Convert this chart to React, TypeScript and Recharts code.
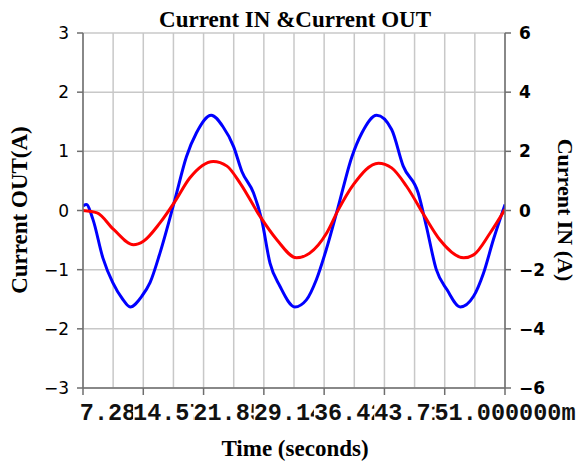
import React from 'react';
import {
  LineChart,
  Line,
  XAxis,
  YAxis,
  CartesianGrid,
} from 'recharts';

// time in ms
const inTimes = [0, 0.4, 1.2, 2.4, 3.6, 4.8, 5.7, 7.1, 8.1, 9.3, 11.1, 12.5, 13.7, 15.5, 16.9, 18.2, 19.2, 20.6, 21.6, 22.6, 23.8, 25.6, 27.0, 28.2, 29.4, 30.8, 32.5, 33.7, 35.5, 37.3, 38.7, 40.5, 41.5, 42.7, 44.0, 45.6, 47.2, 48.4, 49.6, 51];
const inValues = [0.15, 0.2, -0.3, -1.6, -2.44, -3.0, -3.26, -2.9, -2.44, -1.44, 0.36, 1.82, 2.62, 3.22, 2.84, 2.16, 1.32, 0.6, -0.32, -1.78, -2.56, -3.26, -3.02, -2.34, -1.32, 0.08, 1.82, 2.62, 3.22, 2.74, 1.5, 0.6, -0.54, -2.0, -2.68, -3.26, -2.9, -2.12, -0.98, 0.2];

const outTimes = [0, 1.7, 3.7, 6.1, 7.3, 9.3, 11.1, 12.9, 15.75, 17.4, 19.0, 21.4, 23.4, 25.8, 27.4, 29.45, 30.85, 32.7, 35.7, 37.3, 39.1, 41.3, 43.1, 46.0, 47.2, 49.2, 51];
const outValues = [0.0, -0.04, -0.32, -0.58, -0.52, -0.21, 0.15, 0.55, 0.83, 0.75, 0.46, -0.1, -0.49, -0.8, -0.72, -0.38, 0.01, 0.44, 0.8, 0.72, 0.41, -0.1, -0.49, -0.8, -0.75, -0.38, 0.02];

const T_END = 51;
const majorTicks = [0, 1, 2, 3, 4, 5, 6, 7].map((k) => (k * T_END) / 7);
const gridTicks = Array.from({ length: 15 }, (_, k) => (k * T_END) / 14);
const leftTicks = [-3, -2, -1, 0, 1, 2, 3];
const rightTicks = [-6, -4, -2, 0, 2, 4, 6];

const inData = inTimes.map((t, i) => ({ t, v: inValues[i] }));
const outData = outTimes.map((t, i) => ({ t, v: outValues[i] }));

const AXIS = '#6e6e6e';
const GRID = '#c8c8c8';

const minus = (v: number) => String(v).replace('-', '\u2212');

// vertical grid every half tick interval
const gridX = ({ xAxis, offset }: any) => {
  const s = xAxis?.scale;
  if (typeof s === 'function') return gridTicks.map((t) => s(t));
  return gridTicks.map((t) => offset.left + (t / T_END) * offset.width);
};

// later labels paint over earlier ones, like the original plot
const TimeTick = (props: any) => {
  const { x, y, payload } = props;
  if (payload.value === 0) return <g />;
  const label = payload.value.toFixed(6) + 'm';
  const w = label.length * 14.1;
  return (
    <g>
      <rect x={x - w / 2} y={y + 4} width={w} height={24} fill="#fff" />
      <text x={x} y={y + 23} textAnchor="middle" fontFamily="Liberation Mono" fontWeight="bold" fontSize={23.5} fill="#111">
        {label}
      </text>
    </g>
  );
};

const serif = { fontFamily: 'Liberation Serif', fontWeight: 'bold' as const, fontSize: 23, fill: '#000' };

export default function App() {
  return (
    <div style={{ position: 'absolute', left: 0, top: 0, width: 579, height: 462, background: '#fff' }}>
      <LineChart width={579} height={462} margin={{ top: 33, right: 0, bottom: 0, left: 0 }}>
        <CartesianGrid yAxisId="left" stroke={GRID} strokeWidth={1.5} verticalCoordinatesGenerator={gridX} />
        <XAxis
          dataKey="t"
          type="number"
          domain={[0, T_END]}
          ticks={majorTicks}
          height={74}
          tickSize={7}
          tickMargin={2}
          stroke={AXIS}
          strokeWidth={1.5}
          tick={<TimeTick />}
          interval={0}
          allowDataOverflow
        />
        <YAxis
          yAxisId="left"
          domain={[-3, 3]}
          ticks={leftTicks}
          width={83}
          tickSize={6}
          tickMargin={8}
          stroke={AXIS}
          strokeWidth={1.5}
          tickFormatter={minus}
          tick={{ fontFamily: 'DejaVu Sans', fontSize: 17, fill: '#000' }}
          interval={0}
        />
        <YAxis
          yAxisId="right"
          orientation="right"
          domain={[-6, 6]}
          ticks={rightTicks}
          width={74}
          tickSize={6}
          tickMargin={8}
          stroke={AXIS}
          strokeWidth={1.5}
          tickFormatter={minus}
          tick={{ fontFamily: 'DejaVu Sans', fontWeight: 'bold', fontSize: 17, fill: '#000' }}
          interval={0}
        />
        <Line data={inData} yAxisId="right" dataKey="v" type="monotone" stroke="#0000ff" strokeWidth={3} dot={false} isAnimationActive={false} />
        <Line data={outData} yAxisId="left" dataKey="v" type="monotone" stroke="#ff0000" strokeWidth={3} dot={false} isAnimationActive={false} />
      </LineChart>
      <svg width={579} height={462} style={{ position: 'absolute', left: 0, top: 0, pointerEvents: 'none' }}>
        <text x={295} y={27} textAnchor="middle" {...serif}>Current IN &amp;Current OUT</text>
        <text x={295} y={456} textAnchor="middle" {...serif}>Time (seconds)</text>
        <text transform="translate(27,210) rotate(-90)" textAnchor="middle" {...serif}>Current OUT(A)</text>
        <text transform="translate(558,210) rotate(90)" textAnchor="middle" {...serif} fontSize={22}>Current IN (A)</text>
      </svg>
    </div>
  );
}
